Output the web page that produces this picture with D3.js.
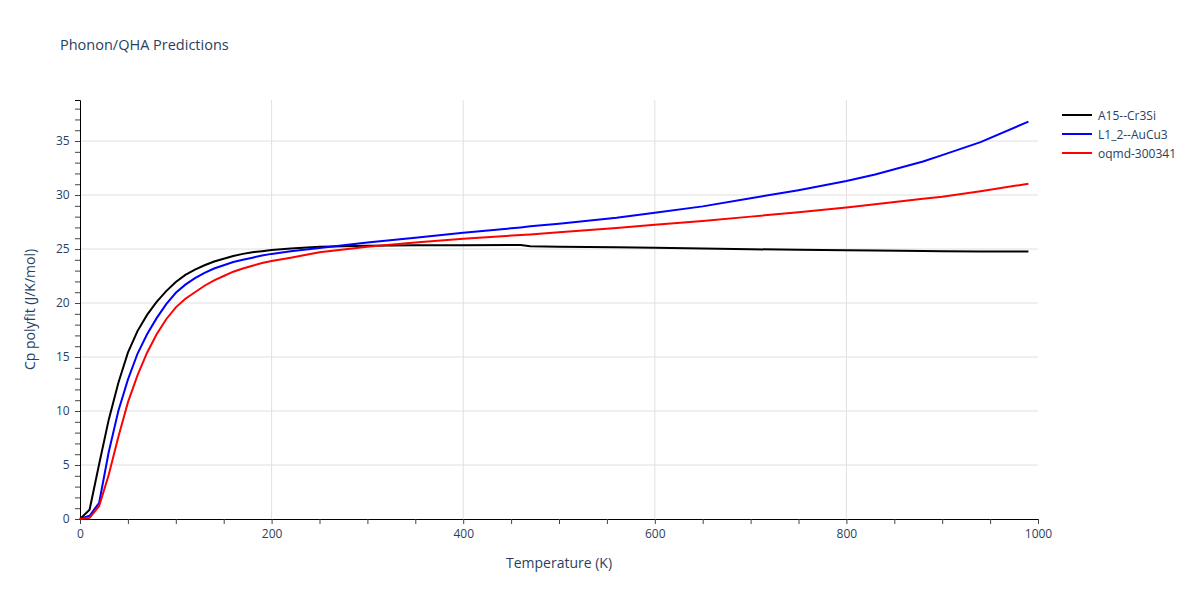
<!DOCTYPE html>
<html>
<head>
<meta charset="utf-8">
<script src="https://cdn.jsdelivr.net/npm/d3@7"></script>
<style>
  body { margin: 0; background: #fff; }
  text { font-family: "Open Sans", "Noto Sans", sans-serif; }
</style>
</head>
<body>
<div id="chart"></div>
<script>
// Data
const temps = [0, 10, 20, 30, 40, 50, 60, 70, 80, 90, 100, 110, 120, 130, 140, 150, 160, 170, 180, 190, 200,
               220, 250, 300, 350, 400, 460, 470, 500, 560, 600, 650, 700, 750, 800, 830, 880, 900, 940, 990];
const cr3si = [0, 0.85, 5.1, 9.2, 12.6, 15.4, 17.4, 18.9, 20.1, 21.1, 21.95, 22.6, 23.1, 23.5, 23.85, 24.1, 24.35, 24.55, 24.7, 24.8, 24.9,
               25.05, 25.2, 25.3, 25.35, 25.35, 25.37, 25.25, 25.22, 25.17, 25.12, 25.05, 24.98, 24.93, 24.88, 24.86, 24.82, 24.8, 24.78, 24.77];
const aucu3 = [0, 0.3, 1.5, 6.2, 10.0, 12.9, 15.3, 17.1, 18.6, 19.9, 20.95, 21.7, 22.3, 22.8, 23.2, 23.5, 23.8, 24.0, 24.2, 24.4, 24.55,
               24.8, 25.1, 25.6, 26.05, 26.5, 27.0, 27.1, 27.35, 27.9, 28.35, 28.95, 29.7, 30.45, 31.3, 31.9, 33.1, 33.7, 34.9, 36.8];
const oqmd = [0, 0.1, 1.2, 4.1, 7.6, 10.8, 13.3, 15.4, 17.1, 18.5, 19.6, 20.4, 21.0, 21.6, 22.1, 22.5, 22.9, 23.2, 23.45, 23.7, 23.9,
              24.2, 24.7, 25.2, 25.6, 25.95, 26.3, 26.35, 26.55, 26.95, 27.25, 27.6, 28.0, 28.4, 28.85, 29.15, 29.65, 29.85, 30.35, 31.05];
const seriesNames = ["A15--Cr3Si", "L1_2--AuCu3", "oqmd-300341"];
const seriesColors = ["#000000", "#0000ff", "#ff0000"];
const xTicks = [0, 200, 400, 600, 800, 1000];
const yTicks = [0, 5, 10, 15, 20, 25, 30, 35];

const W = 1200, H = 600;
const margin = { top: 100, right: 162, bottom: 81, left: 80 };
const textColor = "#2a3f5f";

const svg = d3.select("#chart").append("svg")
  .attr("width", W).attr("height", H);

const x = d3.scaleLinear().domain([0, 1000]).range([margin.left, W - margin.right]);
const y = d3.scaleLinear().domain([0, 38.8]).range([H - margin.bottom, margin.top]);

// Grid lines
svg.append("g").selectAll("line").data(xTicks.slice(1, -1)).join("line")
  .attr("x1", d => x(d)).attr("x2", d => x(d))
  .attr("y1", y(0)).attr("y2", margin.top)
  .attr("stroke", "#e0e0e0").attr("stroke-width", 1);
svg.append("g").selectAll("line").data(yTicks.slice(1)).join("line")
  .attr("x1", x(0)).attr("x2", x(1000))
  .attr("y1", d => y(d)).attr("y2", d => y(d))
  .attr("stroke", "#e0e0e0").attr("stroke-width", 1);

// X axis
const xAxis = svg.append("g")
  .attr("transform", `translate(0,${y(0)})`)
  .call(d3.axisBottom(x).tickValues(d3.range(0, 1001, 50)).tickSize(5)
    .tickFormat(d => xTicks.includes(d) ? d : ""));
xAxis.select(".domain").attr("stroke", "#000");
xAxis.selectAll(".tick line").attr("stroke", "#444");
xAxis.selectAll("text").attr("fill", textColor).attr("font-size", 12).attr("dy", "0.9em");

// Y axis
const yAxis = svg.append("g")
  .attr("transform", `translate(${x(0)},0)`)
  .call(d3.axisLeft(y).tickValues(d3.range(0, 39, 1)).tickSize(5)
    .tickFormat(d => yTicks.includes(d) ? d : ""));
yAxis.select(".domain").attr("stroke", "#000");
yAxis.selectAll(".tick line").attr("stroke", "#444");
yAxis.selectAll("text").attr("fill", textColor).attr("font-size", 12).attr("dx", "-0.2em");

// Lines
const line = d3.line().x((d, i) => x(temps[i])).y(d => y(d));
[cr3si, aucu3, oqmd].forEach((vals, i) => {
  svg.append("path").datum(vals)
    .attr("d", line)
    .attr("fill", "none")
    .attr("stroke", seriesColors[i])
    .attr("stroke-width", 2);
});

// Titles
svg.append("text").attr("x", 60).attr("y", 50)
  .attr("fill", textColor).attr("font-size", 14.5)
  .text("Phonon/QHA Predictions");
svg.append("text").attr("x", (x(0) + x(1000)) / 2).attr("y", 568)
  .attr("text-anchor", "middle").attr("fill", textColor).attr("font-size", 14)
  .text("Temperature (K)");
svg.append("text")
  .attr("transform", `translate(35,${(y(0) + margin.top) / 2}) rotate(-90)`)
  .attr("text-anchor", "middle").attr("fill", textColor).attr("font-size", 14)
  .text("Cp polyfit (J/K/mol)");

// Legend
const legend = svg.append("g").attr("transform", "translate(1062,115)");
seriesNames.forEach((name, i) => {
  const g = legend.append("g").attr("transform", `translate(0,${i * 19})`);
  g.append("line").attr("x1", 0).attr("x2", 30).attr("y1", 0).attr("y2", 0)
    .attr("stroke", seriesColors[i]).attr("stroke-width", 2);
  g.append("text").attr("x", 36).attr("y", 4.5)
    .attr("fill", textColor).attr("font-size", 12).text(name);
});
</script>
</body>
</html>
